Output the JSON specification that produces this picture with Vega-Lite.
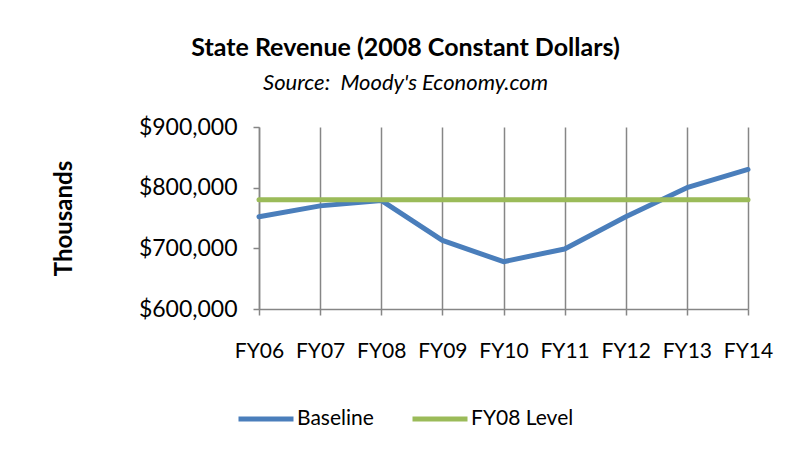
{
  "$schema": "https://vega.github.io/schema/vega-lite/v6.json",
  "width": 489,
  "height": 182,
  "autosize": {"type": "none"},
  "padding": {"left": 259, "top": 127, "right": 48, "bottom": 143},
  "background": "white",
  "config": {
    "font": "Lato",
    "view": {"stroke": null},
    "axis": {"labelFont": "Lato", "titleFont": "Lato"}
  },
  "title": {
    "text": "State Revenue (2008 Constant Dollars)",
    "subtitle": "Source:\u00a0 Moody's Economy.com",
    "frame": "bounds",
    "anchor": "middle",
    "dx": -7,
    "font": "Lato",
    "fontSize": 25,
    "fontWeight": "bold",
    "color": "black",
    "subtitleFont": "Lato",
    "subtitleFontSize": 22,
    "subtitleFontStyle": "italic",
    "subtitleColor": "black",
    "subtitlePadding": 12,
    "offset": 22
  },
  "data": {
    "values": [
      {"year": "FY06", "series": "Baseline", "value": 752000},
      {"year": "FY07", "series": "Baseline", "value": 770000},
      {"year": "FY08", "series": "Baseline", "value": 779000},
      {"year": "FY09", "series": "Baseline", "value": 713000},
      {"year": "FY10", "series": "Baseline", "value": 678000},
      {"year": "FY11", "series": "Baseline", "value": 699000},
      {"year": "FY12", "series": "Baseline", "value": 752000},
      {"year": "FY13", "series": "Baseline", "value": 800000},
      {"year": "FY14", "series": "Baseline", "value": 830000},
      {"year": "FY06", "series": "FY08 Level", "value": 780000},
      {"year": "FY07", "series": "FY08 Level", "value": 780000},
      {"year": "FY08", "series": "FY08 Level", "value": 780000},
      {"year": "FY09", "series": "FY08 Level", "value": 780000},
      {"year": "FY10", "series": "FY08 Level", "value": 780000},
      {"year": "FY11", "series": "FY08 Level", "value": 780000},
      {"year": "FY12", "series": "FY08 Level", "value": 780000},
      {"year": "FY13", "series": "FY08 Level", "value": 780000},
      {"year": "FY14", "series": "FY08 Level", "value": 780000}
    ]
  },
  "mark": {"type": "line", "strokeWidth": 5, "strokeCap": "round", "strokeJoin": "round"},
  "encoding": {
    "x": {
      "field": "year",
      "type": "ordinal",
      "scale": {"type": "point", "padding": 0},
      "axis": {
        "title": null,
        "labelAngle": 0,
        "labelFontSize": 21,
        "labelColor": "black",
        "labelPadding": 25,
        "grid": true,
        "gridColor": "#868686",
        "gridWidth": 1.5,
        "domainColor": "#868686",
        "domainWidth": 1.5,
        "tickColor": "#868686",
        "tickSize": 6,
        "tickWidth": 1.5
      }
    },
    "y": {
      "field": "value",
      "type": "quantitative",
      "scale": {"domain": [600000, 900000]},
      "axis": {
        "title": "Thousands",
        "titleFontSize": 24,
        "titleFontWeight": "bold",
        "titleColor": "black",
        "titlePadding": 62,
        "values": [600000, 700000, 800000, 900000],
        "format": "$,.0f",
        "labelFontSize": 23,
        "labelColor": "black",
        "labelPadding": 16,
        "grid": false,
        "domainColor": "#868686",
        "domainWidth": 1.5,
        "tickColor": "#868686",
        "tickSize": 6,
        "tickWidth": 1.5
      }
    },
    "color": {
      "field": "series",
      "type": "nominal",
      "scale": {"domain": ["Baseline", "FY08 Level"], "range": ["#4a7ebb", "#9bbb59"]},
      "legend": {
        "title": null,
        "orient": "none",
        "legendX": -23,
        "legendY": 262,
        "direction": "horizontal",
        "symbolType": "stroke",
        "symbolSize": 3025,
        "symbolStrokeWidth": 5,
        "labelFontSize": 21,
        "labelColor": "black",
        "labelOffset": 1,
        "columnPadding": 28
      }
    }
  }
}
